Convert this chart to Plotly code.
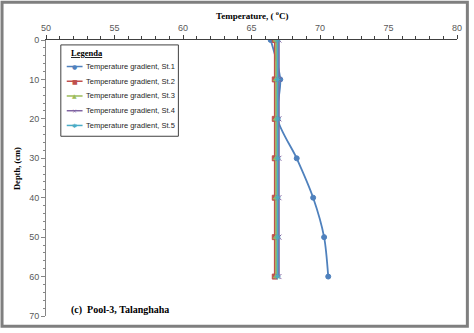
import plotly.graph_objects as go

# Depth profile readings (cm) and temperatures (deg C) for each station
depth = [0, 10, 20, 30, 40, 50, 60]
st1 = [66.4, 67.1, 66.9, 68.3, 69.5, 70.3, 70.6]
st2 = [66.7, 66.7, 66.7, 66.7, 66.7, 66.7, 66.7]
st3 = [66.8, 66.8, 66.8, 66.8, 66.8, 66.8, 66.8]
st4 = [67.0, 67.0, 67.0, 67.0, 67.0, 67.0, 67.0]
st5 = [66.9, 66.9, 66.9, 66.9, 66.9, 66.9, 66.9]

names = ["Temperature gradient, St.1", "Temperature gradient, St.2",
         "Temperature gradient, St.3", "Temperature gradient, St.4",
         "Temperature gradient, St.5"]
values = [st1, st2, st3, st4, st5]
colors = ["#4F81BD", "#C0504D", "#9BBB59", "#8064A2", "#4BACC6"]
symbols = ["circle", "square", "triangle-up", "x-thin-open", "asterisk-open"]
legend_glyphs = ["●", "■", "▲", "×", "✱"]

W, H = 474, 333
L, R, T, B = 46, 12, 40, 12
pw, ph = W - L - R, H - T - B


def px(x):
    return (x - L) / pw


def py(y):
    return (H - B - y) / ph


fig = go.Figure()
for name, vals, color, sym in zip(names, values, colors, symbols):
    fig.add_trace(go.Scatter(
        x=vals, y=depth, name=name, mode="lines+markers", showlegend=False,
        line=dict(color=color, width=1.8, shape="spline", smoothing=0.8),
        marker=dict(symbol=sym, size=5, color=color,
                    line=dict(color=color, width=1)),
    ))

annotations = [
    dict(text="<b>Temperature, ( <sup>o</sup>C)</b>", xref="paper", yref="paper",
         x=px(254), y=py(15), xanchor="center", yanchor="middle", showarrow=False,
         font=dict(family="Liberation Serif", size=9, color="black")),
    dict(text="<b>Depth, (cm)</b>", xref="paper", yref="paper",
         x=px(16), y=py(171), xanchor="center", yanchor="middle", showarrow=False,
         textangle=-90,
         font=dict(family="Liberation Serif", size=8.5, color="black")),
    dict(text="<b>(c)  Pool-3, Talanghaha</b>", xref="paper", yref="paper",
         x=px(69), y=py(315), xanchor="left", yanchor="middle", showarrow=False,
         font=dict(family="Liberation Serif", size=10, color="black")),
    dict(text="<b><u>Legenda</u></b>", xref="paper", yref="paper",
         x=px(69), y=py(53), xanchor="left", yanchor="middle", showarrow=False,
         font=dict(family="Liberation Serif", size=8.5, color="black")),
]

shapes = [
    # outer frame
    dict(type="rect", xref="paper", yref="paper",
         x0=px(1.5), x1=px(472.5), y0=py(331.5), y1=py(1.5),
         line=dict(color="#7F7F7F", width=3), fillcolor="rgba(0,0,0,0)"),
    # legend box
    dict(type="rect", xref="paper", yref="paper",
         x0=px(61), x1=px(180), y0=py(138), y1=py(45),
         line=dict(color="#404040", width=1), fillcolor="white"),
]

# legend entries
for i, (name, color, glyph) in enumerate(zip(names, colors, legend_glyphs)):
    yy = 67 + 15 * i
    shapes.append(dict(type="line", xref="paper", yref="paper",
                       x0=px(67), x1=px(83), y0=py(yy), y1=py(yy),
                       line=dict(color=color, width=1.5)))
    annotations.append(dict(text=glyph, xref="paper", yref="paper",
                            x=px(75), y=py(yy), xanchor="center", yanchor="middle",
                            showarrow=False,
                            font=dict(family="DejaVu Sans", size=6, color=color)))
    annotations.append(dict(text=name, xref="paper", yref="paper",
                            x=px(84), y=py(yy), xanchor="left", yanchor="middle",
                            showarrow=False,
                            font=dict(family="Liberation Sans", size=7.5, color="#262626")))

fig.update_layout(
    width=W, height=H,
    margin=dict(l=L, r=R, t=T, b=B),
    paper_bgcolor="white", plot_bgcolor="white",
    showlegend=False,
    xaxis=dict(
        side="top", range=[50, 80], dtick=5, tick0=50,
        showgrid=False, zeroline=False,
        showline=True, linecolor="#404040", linewidth=1,
        ticks="outside", ticklen=4, tickcolor="#404040",
        minor=dict(dtick=1, ticks="outside", ticklen=3, tickcolor="#404040"),
        tickfont=dict(family="Liberation Sans", size=9, color="#595959"),
    ),
    yaxis=dict(
        range=[70, 0], dtick=10, tick0=0,
        showgrid=False, zeroline=False,
        showline=True, linecolor="#868686", linewidth=1,
        ticks="outside", ticklen=4, tickcolor="#868686",
        minor=dict(dtick=2, ticks="outside", ticklen=2, tickcolor="#868686"),
        tickfont=dict(family="Liberation Sans", size=9, color="#595959"),
    ),
    annotations=annotations,
    shapes=shapes,
)

fig.write_html("out.html")
